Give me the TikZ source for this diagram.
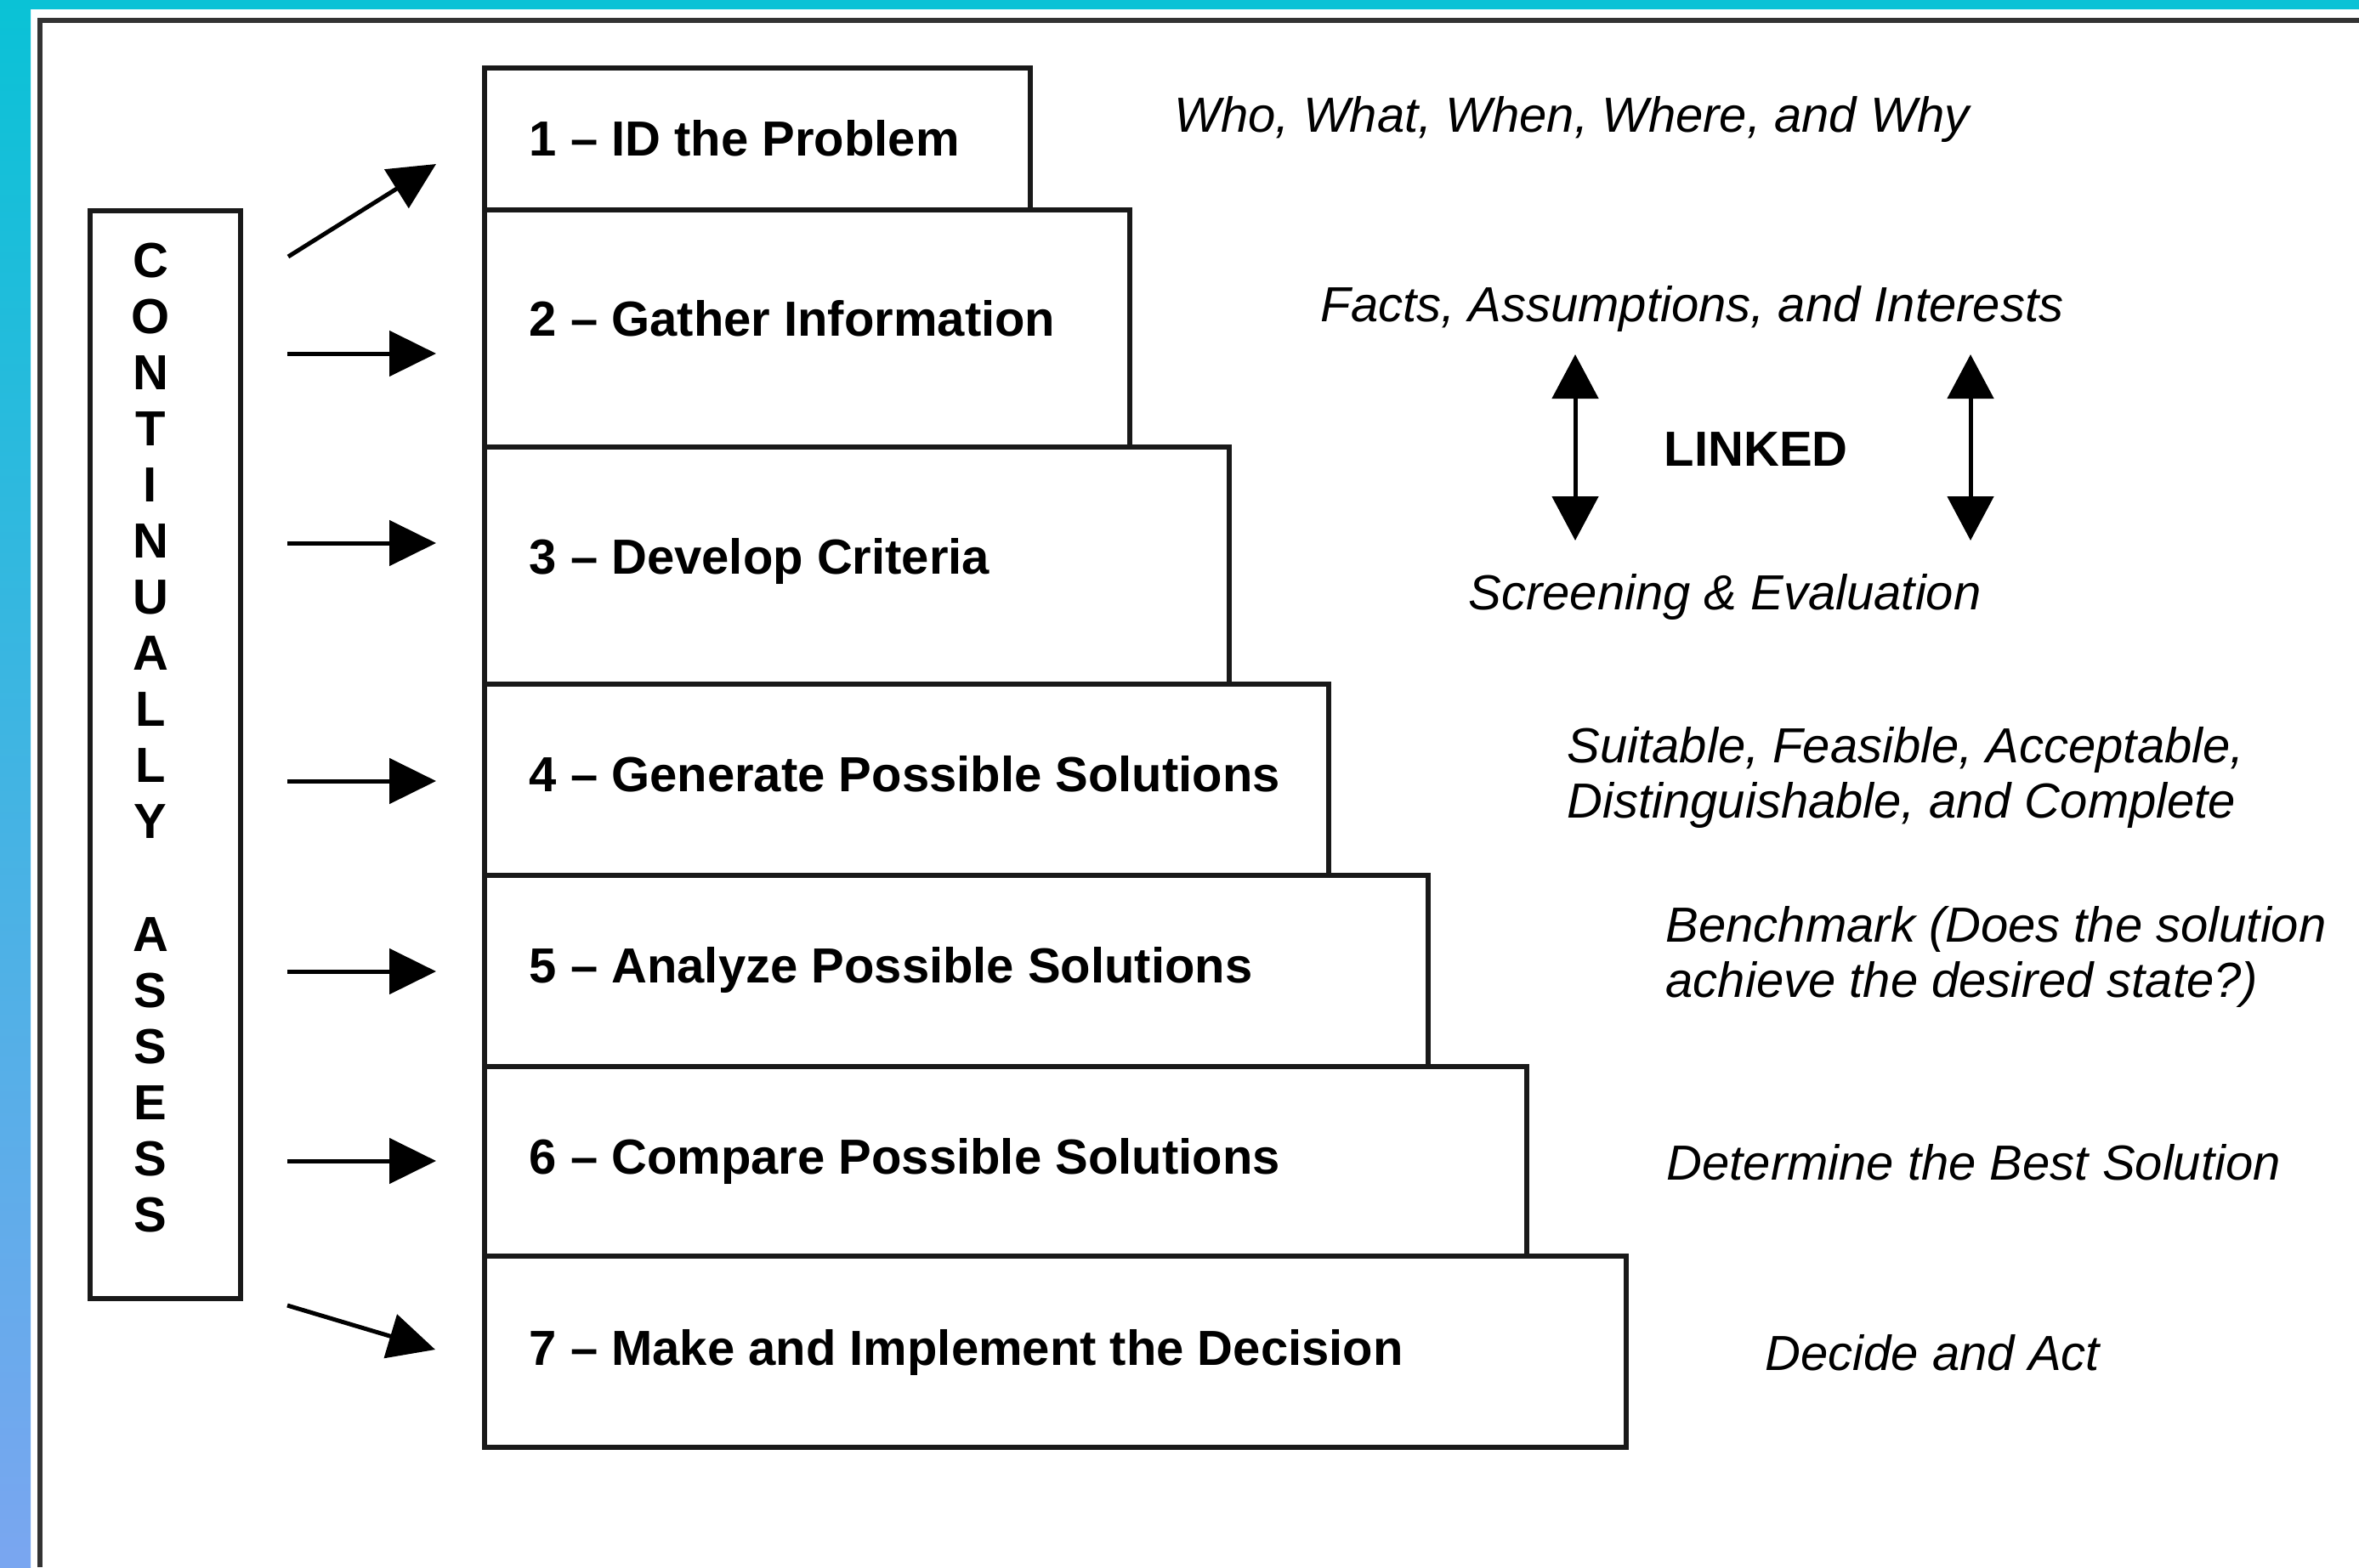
\documentclass[tikz,border=0pt]{standalone}
\usepackage{fontspec}
\setmainfont{Liberation Sans}
\usepackage{xcolor}
\usetikzlibrary{arrows.meta}
\definecolor{SlideCyan}{RGB}{10,194,214}
\definecolor{SlideBlue}{RGB}{122,166,240}
\definecolor{FrameGray}{RGB}{51,51,51}

\begin{document}
\begin{tikzpicture}[
    stepbox/.style={draw=black!90, line width=0.055cm, outer sep=0pt, inner sep=0pt, anchor=north west},
    steptext/.style={font=\fontsize{16.5}{19.8}\selectfont\bfseries, inner sep=0pt, anchor=base west},
    note/.style={font=\fontsize{16.5}{18.3}\selectfont\itshape, inner sep=0pt, anchor=base west, align=left},
    flow/.style={-{Triangle[length=0.55cm,width=0.53cm]}, line width=0.05cm},
    link/.style={{Triangle[length=0.52cm,width=0.54cm]}-{Triangle[length=0.52cm,width=0.54cm]}, line width=0.05cm}
  ]
  \useasboundingbox (0,0) rectangle (27.75,-18.44);

  % Slide border
  \fill[top color=SlideCyan, bottom color=SlideBlue] (0,0) rectangle (0.36,-18.44);
  \fill[SlideCyan] (0,0) rectangle (27.75,-0.11);
  \draw[FrameGray, line width=0.06cm] (0.47,-18.44) -- (0.47,-0.24) -- (27.75,-0.24);

  % Continually assess
  \node[stepbox, minimum width=1.77cm, minimum height=12.80cm] (assessbox) at (1.06,-2.48) {};
  \node[font=\fontsize{16.5}{18.8}\selectfont\bfseries, align=center, inner sep=0pt, anchor=north] (assess) at (1.77,-2.85)
    {C\\O\\N\\T\\I\\N\\U\\A\\L\\L\\Y\\[18.8pt]A\\S\\S\\E\\S\\S};

  % Steps
  \node[stepbox, minimum width=6.42cm, minimum height=1.67cm] (s1) at (5.70,-0.80) {};
  \node[stepbox, minimum width=7.59cm, minimum height=2.79cm] (s2) at (s1.south west) {};
  \node[stepbox, minimum width=8.76cm, minimum height=2.79cm] (s3) at (s2.south west) {};
  \node[stepbox, minimum width=9.93cm, minimum height=2.25cm] (s4) at (s3.south west) {};
  \node[stepbox, minimum width=11.10cm, minimum height=2.25cm] (s5) at (s4.south west) {};
  \node[stepbox, minimum width=12.26cm, minimum height=2.23cm] (s6) at (s5.south west) {};
  \node[stepbox, minimum width=13.43cm, minimum height=2.25cm] (s7) at (s6.south west) {};

  \node[steptext] (t1) at (6.22,-1.83) {1 -- ID the Problem};
  \node[steptext] (t2) at (6.22,-3.95) {2 -- Gather Information};
  \node[steptext] (t3) at (6.22,-6.75) {3 -- Develop Criteria};
  \node[steptext] (t4) at (6.22,-9.31) {4 -- Generate Possible Solutions};
  \node[steptext] (t5) at (6.22,-11.56) {5 -- Analyze Possible Solutions};
  \node[steptext] (t6) at (6.22,-13.81) {6 -- Compare Possible Solutions};
  \node[steptext] (t7) at (6.22,-16.06) {7 -- Make and Implement the Decision};

  % Arrows
  \coordinate (a1) at (3.39,-3.02);
  \coordinate (b1) at (5.13,-1.93);
  \foreach \y [count=\i from 2] in {4.16,6.39,9.19,11.43,13.66} {
    \coordinate (a\i) at (3.38,-\y);
    \coordinate (b\i) at (5.13,-\y);
  }
  \coordinate (a7) at (3.38,-15.36);
  \coordinate (b7) at (5.12,-15.88);
  \foreach \i in {1,...,7}
    \draw[flow] (a\i) -- (b\i);

  % Notes
  \node[note] (who) at (13.81,-1.55) {Who, What, When, Where, and Why};
  \node[note] (facts) at (15.53,-3.78) {Facts, Assumptions, and Interests};
  \node[steptext] (linked) at (19.57,-5.48) {LINKED};
  \node[note] (screen) at (17.27,-7.17) {Screening \& Evaluation};
  \node[note] (suit) at (18.43,-9.62) {Suitable, Feasible, Acceptable,\\Distinguishable, and Complete};
  \node[note] (bench) at (19.59,-11.73) {Benchmark (Does the solution\\achieve the desired state?)};
  \node[note] (best) at (19.60,-13.88) {Determine the Best Solution};
  \node[note] (act) at (20.76,-16.12) {Decide and Act};

  % Linked arrows
  \coordinate (u1) at (18.53,-4.17);
  \coordinate (d1) at (18.53,-6.36);
  \coordinate (u2) at (23.18,-4.17);
  \coordinate (d2) at (23.18,-6.36);
  \draw[link] (u1) -- (d1);
  \draw[link] (u2) -- (d2);
\end{tikzpicture}
\end{document}
